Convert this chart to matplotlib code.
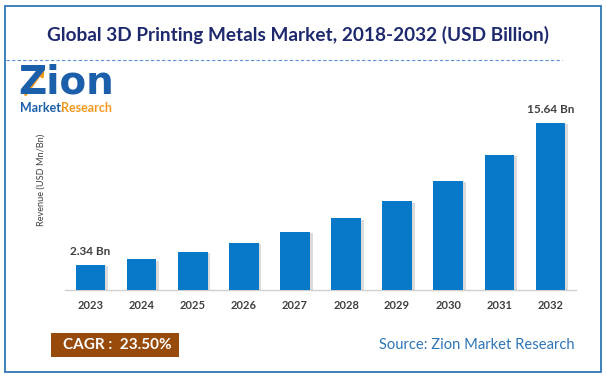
import matplotlib
matplotlib.use('Agg')
import matplotlib.pyplot as plt
import matplotlib.patheffects as pe
from matplotlib.patches import Rectangle
from matplotlib.lines import Line2D

years = ['2023', '2024', '2025', '2026', '2027', '2028', '2029', '2030', '2031', '2032']
revenue = [2.34, 2.89, 3.57, 4.41, 5.44, 6.72, 8.30, 10.25, 12.66, 15.64]
title = 'Global 3D Printing Metals Market, 2018-2032 (USD Billion)'
cagr_text = 'CAGR :  23.50%'
source_text = 'Source: Zion Market Research'

W, H = 607, 380
plt.rcParams['font.family'] = ['Lato', 'DejaVu Sans']


def fx(x):
    return x / W


def fy(y):
    return 1 - y / H


fig = plt.figure(figsize=(W / 100, H / 100), dpi=100)
fig.patch.set_facecolor('white')

# outer blue frame
fig.patches.append(Rectangle((fx(4.5), fy(372)), fx(601) - fx(4.5), (372 - 6) / H,
                             transform=fig.transFigure, fill=False,
                             edgecolor='#2E75B6', linewidth=1.3))

# title and dashed separator
fig.text(fx(298), fy(35), title, ha='center', va='center', fontsize=13.7,
         fontweight='bold', color='#1F2A6E')
fig.lines.append(Line2D([fx(6), fx(562)], [fy(60), fy(60)], transform=fig.transFigure,
                        color='#5B8FD0', linewidth=0.8, linestyle=(0, (3, 2))))

# logo (text version)
fig.text(fx(18), fy(83), 'Zion', ha='left', va='center', fontsize=28,
         fontweight='bold', color='#1B5FAA', family='DejaVu Sans')
fig.patches.append(matplotlib.patches.FancyArrowPatch(
    (fx(24), fy(97)), (fx(46), fy(66)), transform=fig.transFigure,
    arrowstyle='-|>,head_length=4,head_width=2.5', color='#F39A1E', linewidth=2))
fig.text(fx(20), fy(108), 'Market.', ha='left', va='center', fontsize=9,
         fontweight='bold', color='#1B5FAA')
fig.text(fx(61), fy(108), 'Research', ha='left', va='center', fontsize=9,
         fontweight='bold', color='#F39A1E')

# chart
ax = fig.add_axes([fx(65), fy(290), fx(576) - fx(65), (290 - 115) / H])
x = list(range(len(years)))
bars = ax.bar(x, revenue, width=0.58, color='#0878C8', zorder=3)
for b in bars:
    b.set_path_effects([pe.SimplePatchShadow(offset=(2, -1), shadow_rgbFace='#999999', alpha=0.35),
                        pe.Normal()])

ax.set_xlim(-0.5, 9.5)
ax.set_ylim(0, 15.64 * (290 - 115) / (290 - 123))
ax.set_xticks(x)
ax.set_xticklabels(years, fontsize=8, fontweight='bold', color='#404040')
ax.tick_params(axis='x', length=0, pad=7)
ax.set_yticks([])
for s in ['top', 'right', 'left']:
    ax.spines[s].set_visible(False)
ax.spines['bottom'].set_color('#D0D0D0')
ax.spines['bottom'].set_linewidth(1.0)

ax.annotate('2.34 Bn', (0, revenue[0]), xytext=(0, 6), textcoords='offset points',
            ha='center', va='bottom', fontsize=8.5, fontweight='bold', color='#404040')
ax.annotate('15.64 Bn', (9, revenue[-1]), xytext=(0, 6), textcoords='offset points',
            ha='center', va='bottom', fontsize=8.5, fontweight='bold', color='#404040')

fig.text(fx(41), fy(180), 'Revenue (USD Mn/Bn)', rotation=90, ha='center', va='center',
         fontsize=6.6, color='#404040')

# CAGR box and source
fig.patches.append(Rectangle((fx(51), fy(357)), fx(179) - fx(51), (357 - 333) / H,
                             transform=fig.transFigure, facecolor='#974A0A', edgecolor='none'))
fig.text(fx(117), fy(345), cagr_text, ha='center', va='center', fontsize=11,
         fontweight='bold', color='white')
fig.text(fx(575), fy(345), source_text, ha='right', va='center', fontsize=10.6,
         color='#2E75B6')

fig.savefig('out.png', dpi=100)
